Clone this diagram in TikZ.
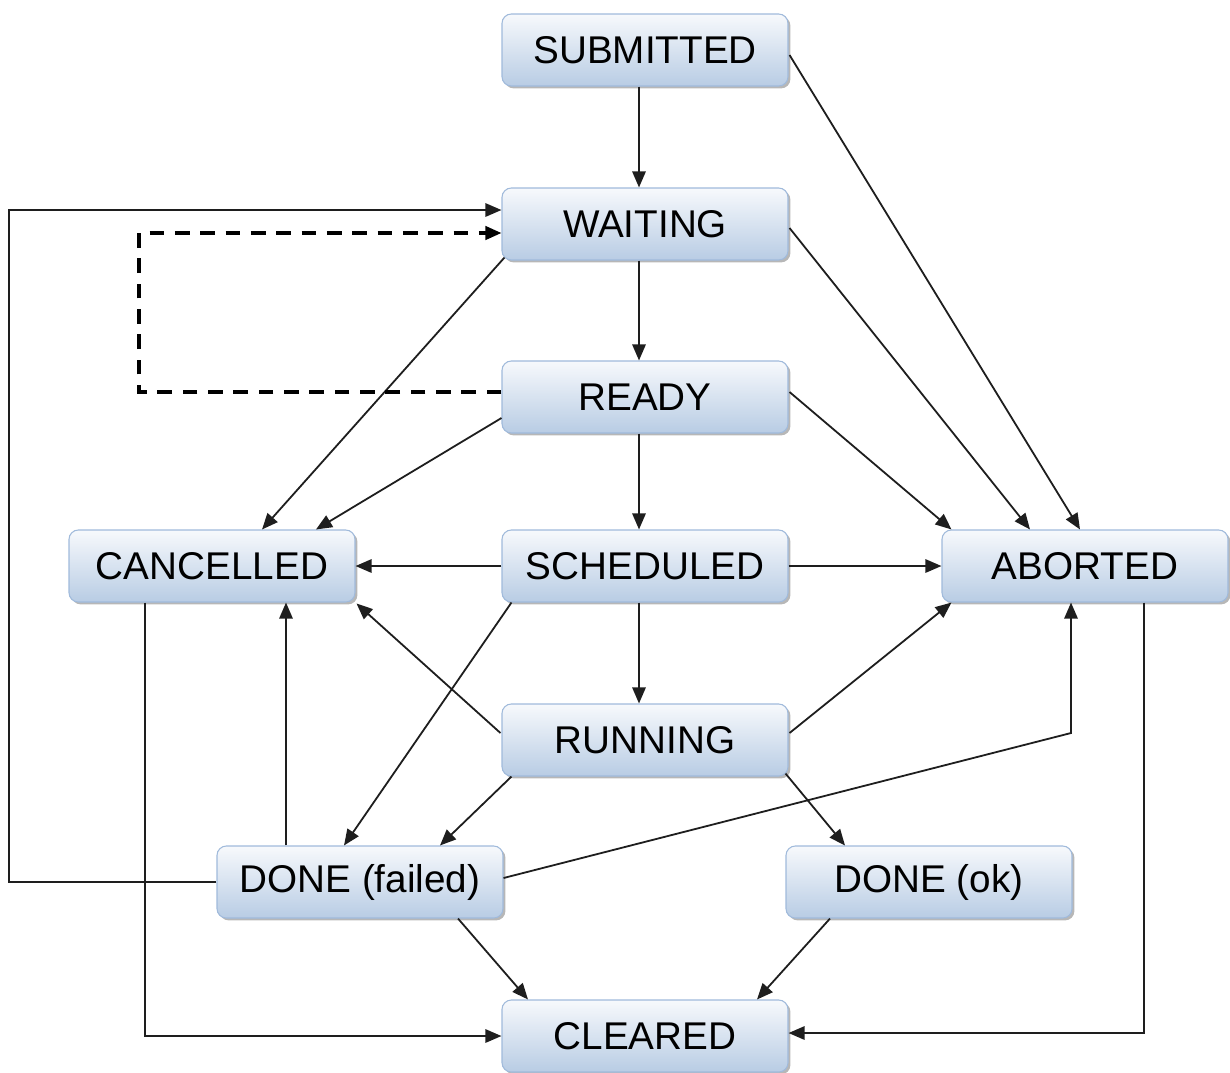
\documentclass[tikz,border=0pt]{standalone}
\usepackage{fontspec}
\setmainfont{Liberation Sans}
\usetikzlibrary{calc,shadows,arrows.meta}

\definecolor{boxtop}{HTML}{F7F9FC}
\definecolor{boxbot}{HTML}{B8CCE4}
\definecolor{boxedge}{HTML}{A0BADB}
\definecolor{wire}{HTML}{1E1E1E}

\tikzset{
  state/.style={rectangle, rounded corners=7pt, draw=boxedge, line width=0.8pt,
    top color=boxtop, bottom color=boxbot,
    minimum width=214.5pt, minimum height=54pt, inner sep=0pt,
    font=\fontsize{29}{31}\selectfont, text=black,
    drop shadow={shadow xshift=1.8pt, shadow yshift=-1.8pt, opacity=0.4, fill=black!70}},
  flow/.style={draw=wire, line width=1.35pt, -{Triangle[length=12pt,width=10pt]}},
  retry/.style={draw=black, line width=2.4pt, dash pattern=on 11pt off 8pt,
    -{Triangle[length=12pt,width=10pt]}}
}

\begin{document}
\begin{tikzpicture}[x=0.75pt, y=-0.75pt]
\useasboundingbox (0,0) rectangle (1230,1072);

% states
\node[state] (sub)   at (645,50)   {SUBMITTED};
\node[state] (wait)  at (645,224)  {WAITING};
\node[state] (ready) at (645,397)  {READY};
\node[state] (canc)  at (212,566)  {CANCELLED};
\node[state] (sched) at (645,566)  {SCHEDULED};
\node[state] (abort) at (1085,566) {ABORTED};
\node[state] (run)   at (645,740)  {RUNNING};
\node[state] (fail)  at (360,882)  {DONE (failed)};
\node[state] (ok)    at (929,882)  {DONE (ok)};
\node[state] (clear) at (645,1036) {CLEARED};

% bend points of the routed connectors
\coordinate (retryx) at (139,300);
\coordinate (backx)  at (9,500);
\coordinate (abkink) at (1071,733);
\coordinate (canx)   at (145,800);
\coordinate (abx)    at (1144,800);

% main line
\draw[flow] ($(sub.south)+(-6,0)$)   -- ($(wait.north)+(-6,0)$);
\draw[flow] ($(wait.south)+(-6,0)$)  -- ($(ready.north)+(-6,0)$);
\draw[flow] ($(ready.south)+(-6,0)$) -- ($(sched.north)+(-6,0)$);
\draw[flow] ($(sched.south)+(-6,0)$) -- ($(run.north)+(-6,0)$);

% towards ABORTED
\draw[flow] ($(sub.east)+(1,5)$)   -- ($(abort.north)+(-5,0)$);
\draw[flow] ($(wait.east)+(1,4)$)  -- ($(abort.north)+(-55,0)$);
\draw[flow] ($(ready.east)+(1,-5)$) -- ($(abort.north west)+(10,0)$);
\draw[flow] (sched.east) -- (abort.west);
\draw[flow] ($(run.east)+(1,-7)$) -- ($(abort.south west)+(10,0)$);
\draw[flow] ($(fail.east)+(0,-4)$) -- (abkink) -- (abkink |- abort.south);

% towards CANCELLED
\draw[flow] ($(wait.south west)+(3,-3)$) -- ($(canc.north)+(50,0)$);
\draw[flow] ($(ready.west)+(0,21)$) -- ($(canc.north)+(104,0)$);
\draw[flow] (sched.west) -- (canc.east);
\draw[flow] ($(run.west)+(-1,-7)$) -- ($(canc.south east)+(1,1)$);
\draw[flow] ($(fail.north)+(-74,0)$) -- ($(canc.south)+(74,0)$);

% towards DONE
\draw[flow] ($(sched.south west)+(10,0)$) -- ($(fail.north)+(-16,0)$);
\draw[flow] ($(run.south west)+(10,0)$) -- ($(fail.north)+(80,0)$);
\draw[flow] ($(run.south east)+(-3,-3)$) -- ($(ok.north)+(-84,0)$);

% towards CLEARED
\draw[flow] ($(fail.south)+(98,0)$) -- ($(clear.north)+(-117,0)$);
\draw[flow] ($(ok.south)+(-99,0)$) -- ($(clear.north)+(112,0)$);
\draw[flow] ($(canc.south)+(-67,0)$) -- (canx |- clear.west) -- (clear.west);
\draw[flow] ($(abort.south)+(59,0)$) -- (abx |- {$(clear.east)+(0,-3)$}) -- ($(clear.east)+(0,-3)$);

% resubmission loops
\draw[flow] (fail.west) -| (backx) |- ($(wait.west)+(0,-14)$);
\draw[retry] ($(ready.west)+(0,-5)$) -| (retryx) |- ($(wait.west)+(0,9)$);
\end{tikzpicture}
\end{document}
